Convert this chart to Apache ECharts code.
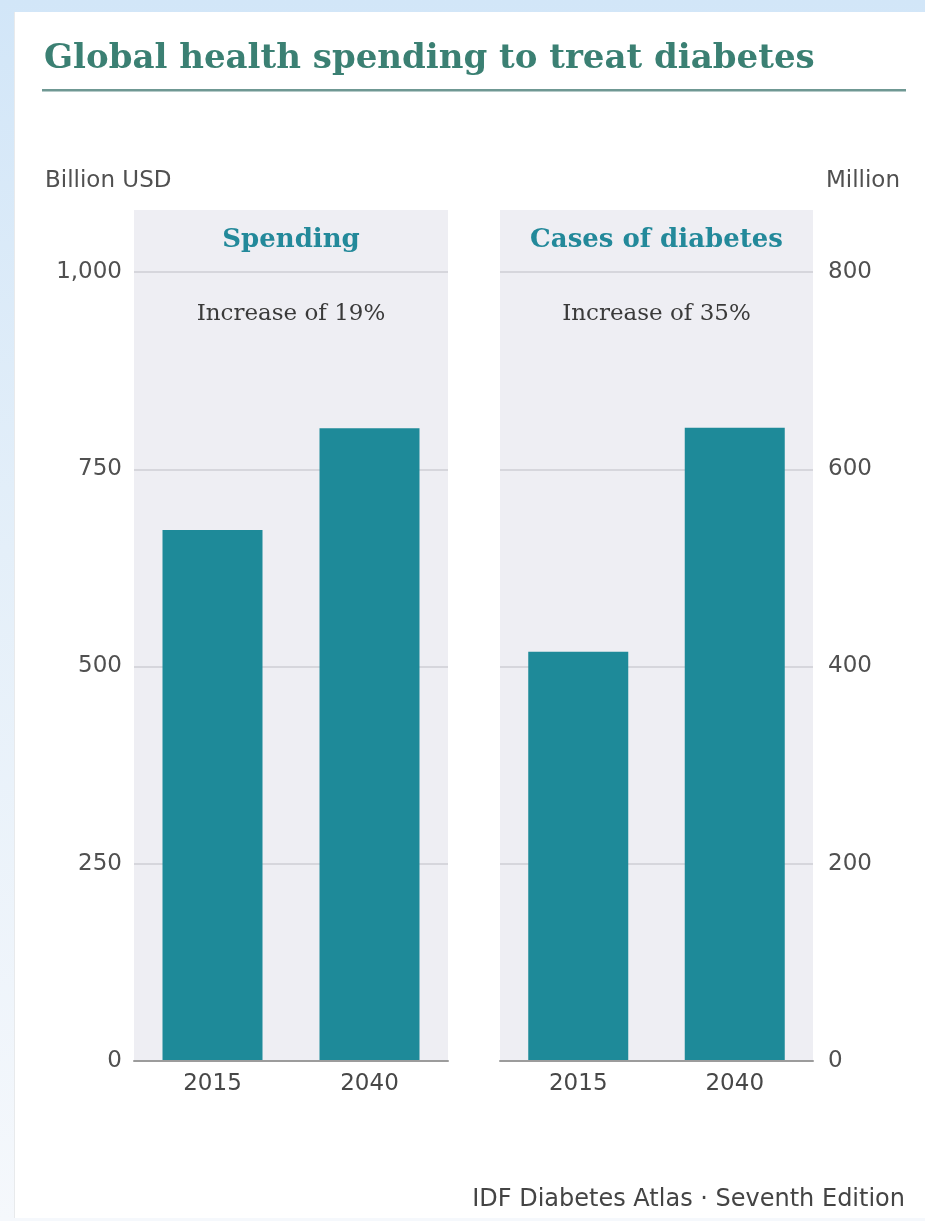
<!DOCTYPE html>
<html>
<head>
<meta charset="utf-8">
<title>Global health spending to treat diabetes</title>
<script src="https://cdn.jsdelivr.net/npm/echarts@6/dist/echarts.min.js"></script>
<style>
  html, body { margin: 0; padding: 0; width: 925px; height: 1221px; overflow: hidden; }
  body { background: linear-gradient(to bottom, #d2e6f8 0%, #e4eff9 45%, #f5f8fc 100%); position: relative; }
  #sheet { position: absolute; left: 14px; top: 12px; right: 0; bottom: 3px; background: #ffffff; border-left: 1px solid #e8eaec; }
  #chart { position: absolute; left: 0; top: 0; width: 925px; height: 1221px; }
</style>
</head>
<body>
<div id="sheet"></div>
<div id="chart"></div>
<script>
// Categories and values
const years = ['2015', '2040'];
const spending = [673, 802];          // billion USD
const cases = [415, 642];             // million people
const spendingTicks = ['0', '250', '500', '750', '1,000'];
const casesTicks = ['0', '200', '400', '600', '800'];
const panelTitles = ['Spending', 'Cases of diabetes'];
const panelNotes = ['Increase of 19%', 'Increase of 35%'];

// Layout
const plotTop = 272, plotBottom = 1061, headTop = 210;
const panels = [
  { left: 134, width: 314 },
  { left: 500, width: 313 }
];
const teal = '#1e8a99';
const panelBg = '#eeeef3';
const sans = '"DejaVu Sans", sans-serif';
const serif = '"DejaVu Serif", serif';

const chart = echarts.init(document.getElementById('chart'), null, { renderer: 'canvas' });

const tickFormatter = (ticks, max) => (v) => ticks[Math.round(v / (max / (ticks.length - 1)))];

const graphics = [];
panels.forEach((p, i) => {
  graphics.push({
    type: 'rect', z: -10, silent: true,
    shape: { x: p.left, y: headTop, width: p.width, height: plotBottom - headTop },
    style: { fill: panelBg }
  });
  graphics.push({
    type: 'text', z: 10,
    style: {
      x: p.left + p.width / 2, y: 240, text: panelTitles[i],
      font: 'bold 26px ' + serif, fill: '#23899a',
      align: 'center', verticalAlign: 'middle'
    }
  });
  graphics.push({
    type: 'text', z: 10,
    style: {
      x: p.left + p.width / 2, y: 314, text: panelNotes[i],
      font: '23px ' + serif, fill: '#3a3a3a',
      align: 'center', verticalAlign: 'middle'
    }
  });
});

// Title, rule, units and source
graphics.push(
  {
    type: 'text',
    style: {
      x: 44, y: 59, text: 'Global health spending to treat diabetes',
      font: 'bold 34px ' + serif, fill: '#3b8073',
      align: 'left', verticalAlign: 'middle'
    }
  },
  {
    type: 'rect',
    shape: { x: 42, y: 89, width: 864, height: 2.5 },
    style: { fill: '#6f9893' }
  },
  {
    type: 'text',
    style: {
      x: 45, y: 181, text: 'Billion USD',
      font: '23px ' + sans, fill: '#505050',
      align: 'left', verticalAlign: 'middle'
    }
  },
  {
    type: 'text',
    style: {
      x: 900, y: 181, text: 'Million',
      font: '23px ' + sans, fill: '#505050',
      align: 'right', verticalAlign: 'middle'
    }
  },
  {
    type: 'text',
    style: {
      x: 905, y: 1200, text: 'IDF Diabetes Atlas \u00b7 Seventh Edition',
      font: '24px ' + sans, fill: '#444444',
      align: 'right', verticalAlign: 'middle'
    }
  }
);

const grids = panels.map(p => ({
  left: p.left, width: p.width, top: plotTop, height: plotBottom - plotTop, containLabel: false
}));

const xAxes = panels.map((p, i) => ({
  type: 'category', gridIndex: i, data: years,
  axisTick: { show: false },
  axisLine: { show: true, lineStyle: { color: '#9c9c9c', width: 2 } },
  axisLabel: { margin: 12, fontSize: 23, fontFamily: sans, color: '#474747' },
  z: 5
}));

const yAxes = [
  {
    type: 'value', gridIndex: 0, min: 0, max: 1000, interval: 250, position: 'left',
    axisLine: { show: false }, axisTick: { show: false },
    axisLabel: { margin: 12, fontSize: 23, fontFamily: sans, color: '#505050',
                 formatter: tickFormatter(spendingTicks, 1000) },
    splitLine: { show: true, lineStyle: { color: '#d6d6dc', width: 2 } }
  },
  {
    type: 'value', gridIndex: 1, min: 0, max: 800, interval: 200, position: 'right',
    axisLine: { show: false }, axisTick: { show: false },
    axisLabel: { margin: 15, fontSize: 23, fontFamily: sans, color: '#505050',
                 formatter: tickFormatter(casesTicks, 800) },
    splitLine: { show: true, lineStyle: { color: '#d6d6dc', width: 2 } }
  }
];

const series = [
  { name: 'Spending', data: spending, xAxisIndex: 0, yAxisIndex: 0 },
  { name: 'Cases of diabetes', data: cases, xAxisIndex: 1, yAxisIndex: 1 }
].map(s => Object.assign({
  type: 'bar', barWidth: 100, itemStyle: { color: teal }, silent: true, z: 3
}, s));

chart.setOption({
  animation: false,
  backgroundColor: 'transparent',
  grid: grids,
  xAxis: xAxes,
  yAxis: yAxes,
  series: series,
  graphic: graphics
});
</script>
</body>
</html>
